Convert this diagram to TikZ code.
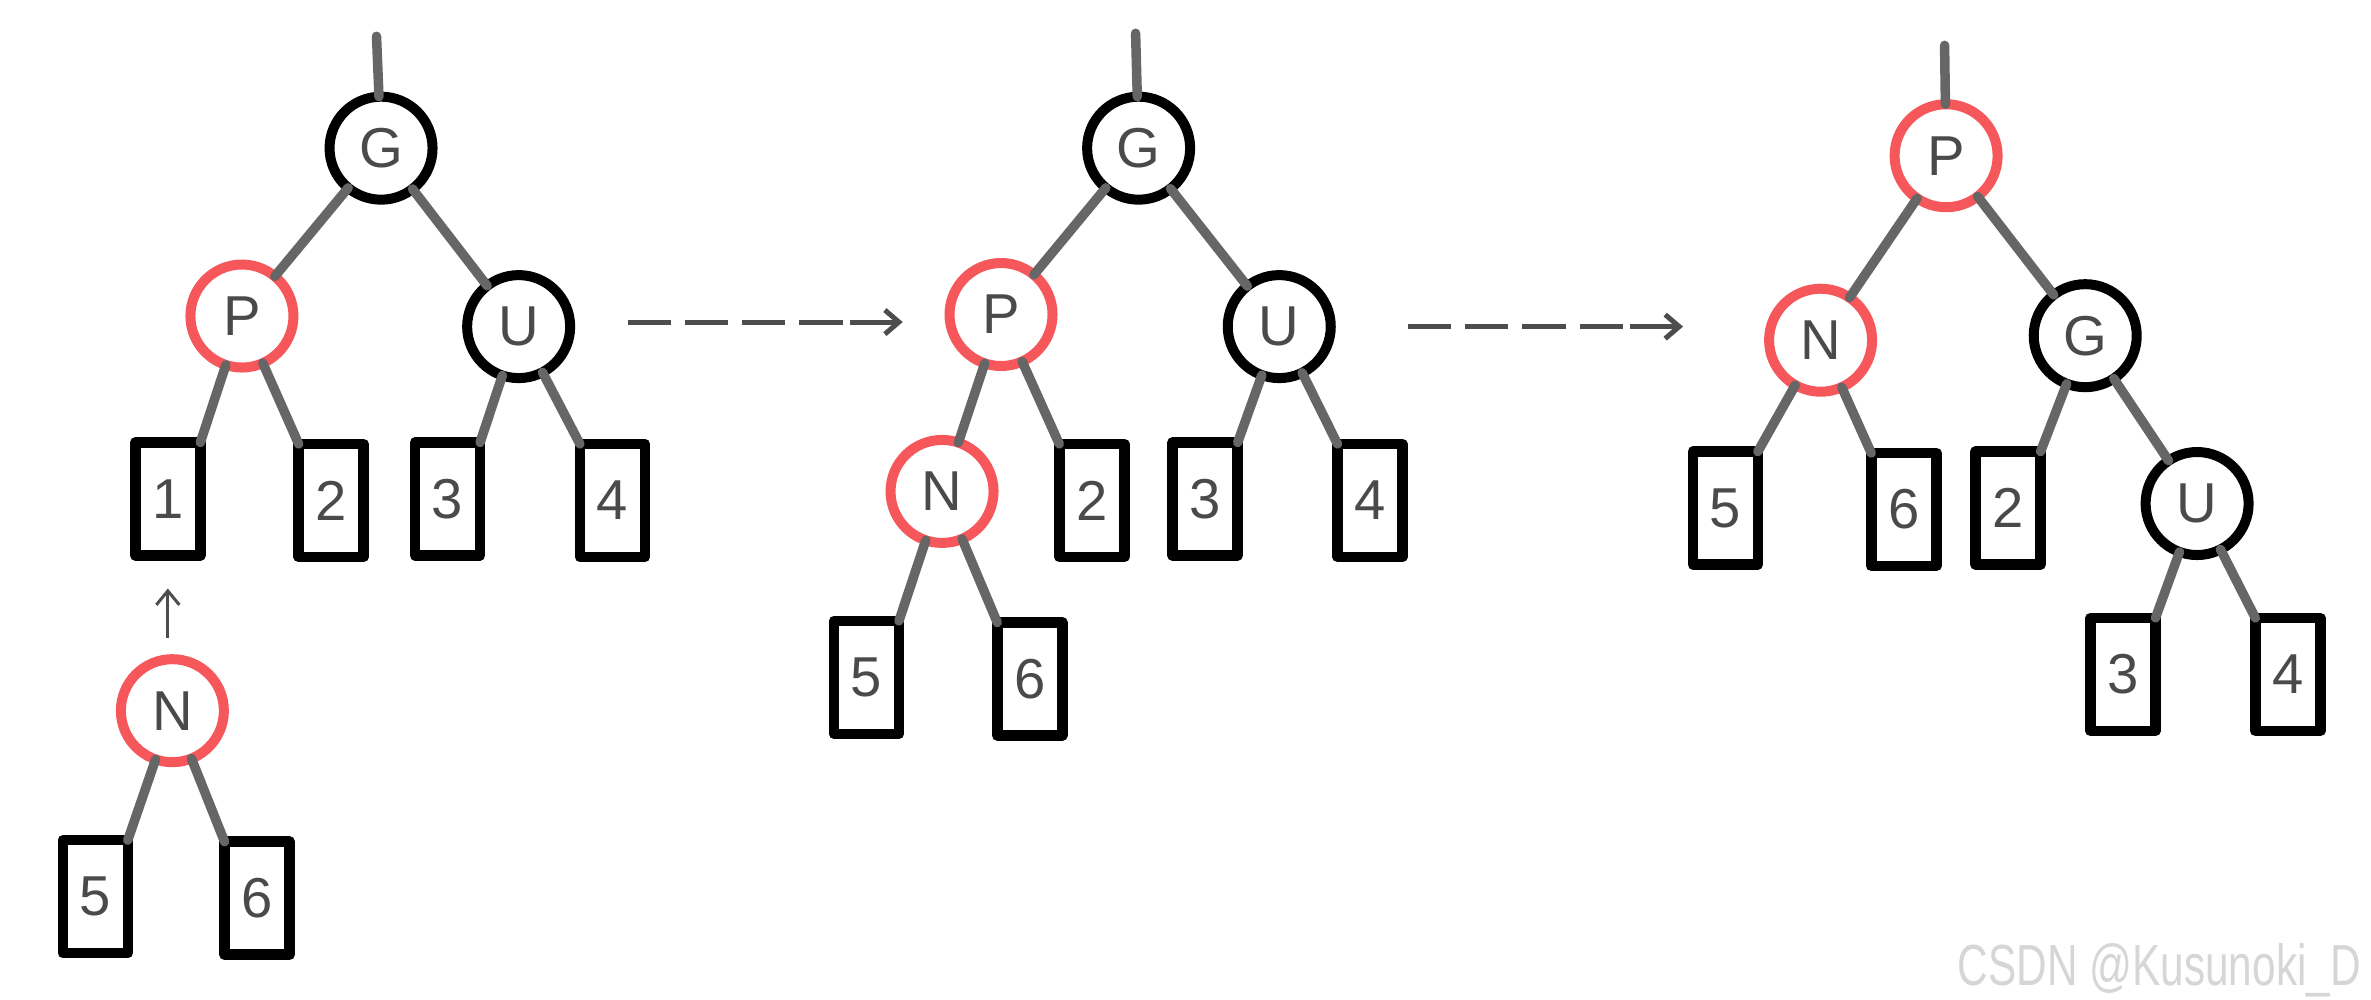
\documentclass[tikz,border=0pt]{standalone}
\usepackage{fontspec}
\setmainfont{Liberation Sans}
\usetikzlibrary{arrows.meta}

\definecolor{rbred}{HTML}{F5575A}
\definecolor{lnkgray}{HTML}{666666}
\definecolor{txtgray}{HTML}{4A4A4A}
\definecolor{arrgray}{HTML}{4D4D4D}

\begin{document}
\begin{tikzpicture}[
  x=0.1512mm, y=-0.1512mm,
  font=\fontsize{16}{19}\selectfont,
  rbn/.style={circle, draw=#1, line width=1mm, fill=white, text=txtgray,
              minimum size=10.3mm, inner sep=0pt, outer sep=0pt},
  leaf/.style={draw, line width=1.05mm, line join=round, fill=white, text=txtgray,
               minimum width=6.5mm, minimum height=11.3mm, inner sep=0pt, outer sep=0pt},
  lnk/.style={draw=lnkgray, line width=0.95mm, line cap=round},
  nxt/.style={-{Straight Barb[length=1.4mm, width=2.4mm]}, draw=arrgray,
              line width=0.5mm,
              dash pattern=on 4.33mm off 1.4mm on 4.33mm off 1.4mm on 4.33mm off 1.4mm
                           on 4.33mm off 0.7mm on 20mm},
  insarr/.style={-{Straight Barb[length=1.4mm, width=2.3mm]}, draw=arrgray, line width=0.3mm},
]

\useasboundingbox (0,0) rectangle (1568,661);

%% ===== LEFT: BEFORE INSERTION =====

\node[rbn=black] (gA) at (252,98) {G};
\node[rbn=rbred] (pA) at (160,209) {P};
\node[rbn=black] (uA) at (343,216) {U};

\node[leaf] (l1A) at (111,330) {1};
\node[leaf] (l2A) at (219,331) {2};
\node[leaf] (l3A) at (296,330) {3};
\node[leaf] (l4A) at (405,331) {4};

\node[rbn=rbred] (nA) at (114,470) {N};
\node[leaf] (l5A) at (63,593) {5};
\node[leaf] (l6A) at (170,594) {6};

\coordinate (topA) at (249,24);

\draw[lnk] (topA) -- (gA);
\draw[lnk] (gA) -- (pA);
\draw[lnk] (gA) -- (uA);
\draw[lnk] (pA) -- (l1A.north east);
\draw[lnk] (pA) -- (l2A.north west);
\draw[lnk] (uA) -- (l3A.north east);
\draw[lnk] (uA) -- (l4A.north west);
\draw[lnk] (nA) -- (l5A.north east);
\draw[lnk] (nA) -- (l6A.north west);

\draw[insarr, shorten <=2.1mm, shorten >=3.3mm] (l1A.south |- nA.north) -- (l1A.south);

%% ===== MIDDLE: N REPLACES LEAF 1 =====

\node[rbn=black] (gB) at (753,98) {G};
\node[rbn=rbred] (pB) at (662,208) {P};
\node[rbn=black] (uB) at (846,216) {U};
\node[rbn=rbred] (nB) at (623,325) {N};

\node[leaf] (l2B) at (722,331) {2};
\node[leaf] (l3B) at (797,330) {3};
\node[leaf] (l4B) at (906,331) {4};
\node[leaf] (l5B) at (573,448) {5};
\node[leaf] (l6B) at (681,449) {6};

\coordinate (topB) at (751,22);

\draw[lnk] (topB) -- (gB);
\draw[lnk] (gB) -- (pB);
\draw[lnk] (gB) -- (uB);
\draw[lnk] (pB) -- (nB);
\draw[lnk] (pB) -- (l2B.north west);
\draw[lnk] (uB) -- (l3B.north east);
\draw[lnk] (uB) -- (l4B.north west);
\draw[lnk] (nB) -- (l5B.north east);
\draw[lnk] (nB) -- (l6B.north west);

%% ===== RIGHT: AFTER ROTATION =====

\node[rbn=rbred] (pC) at (1287,103) {P};
\node[rbn=rbred] (nC) at (1204,225) {N};
\node[rbn=black] (gC) at (1379,222) {G};
\node[rbn=black] (uC) at (1453,333) {U};

\node[leaf] (l5C) at (1141,336) {5};
\node[leaf] (l6C) at (1259,337) {6};
\node[leaf] (l2C) at (1328,336) {2};
\node[leaf] (l3C) at (1404,446) {3};
\node[leaf] (l4C) at (1513,446) {4};

\coordinate (topC) at (1286,30);

\draw[lnk] (topC) -- (pC);
\draw[lnk] (pC) -- (nC);
\draw[lnk] (pC) -- (gC);
\draw[lnk] (nC) -- (l5C.north east);
\draw[lnk] (nC) -- (l6C.north west);
\draw[lnk] (gC) -- (l2C.north east);
\draw[lnk] (gC) -- (uC);
\draw[lnk] (uC) -- (l3C.north east);
\draw[lnk] (uC) -- (l4C.north west);

%% ===== ARROWS =====

\coordinate (s1) at (415,213);
\coordinate (e1) at (597,213);
\coordinate (s2) at (931,216);
\coordinate (e2) at (1113,216);

\draw[nxt] (s1) -- (e1);
\draw[nxt] (s2) -- (e2);

\node[text=black!16, xscale=0.73, anchor=base, font=\fontsize{16.5}{20}\selectfont]
    (wm) at (1428,652) {CSDN @Kusunoki\_D};

\end{tikzpicture}
\end{document}
